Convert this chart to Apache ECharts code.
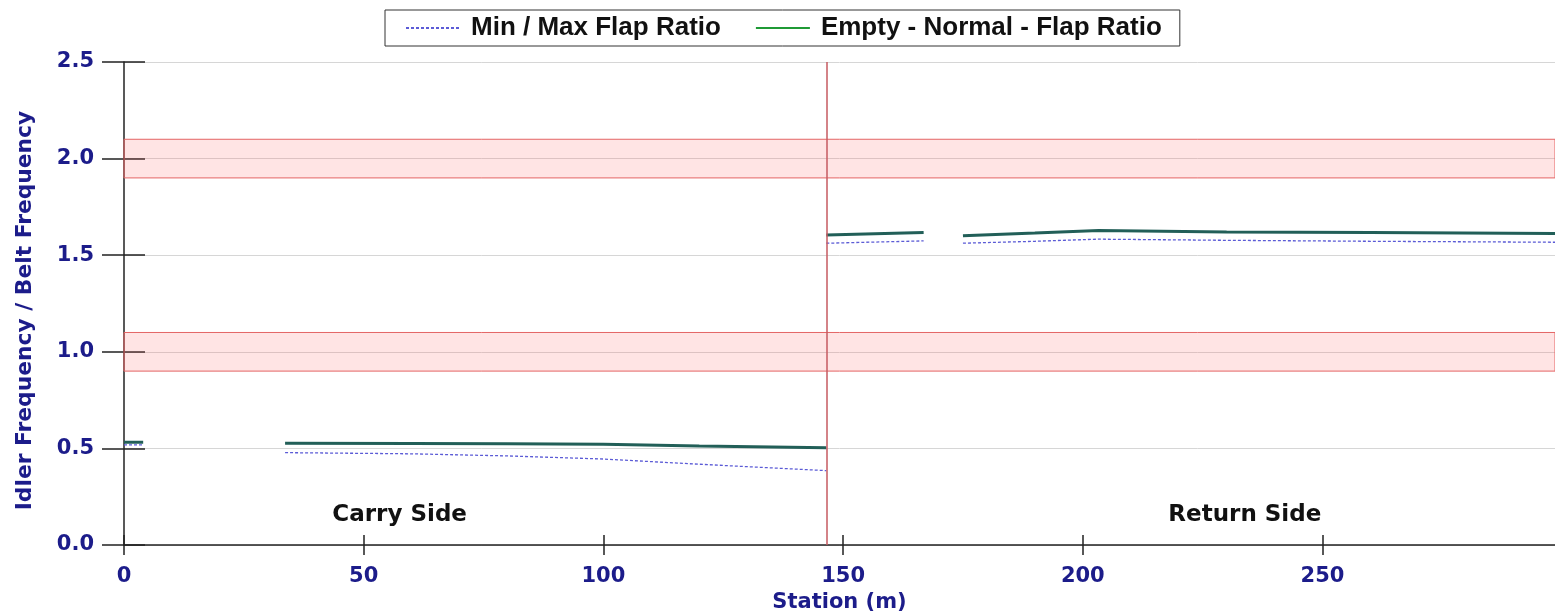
<!DOCTYPE html>
<html>
<head>
<meta charset="utf-8">
<script src="https://cdn.jsdelivr.net/npm/echarts@6/dist/echarts.min.js"></script>
<style>
html,body{margin:0;padding:0;background:#fff;overflow:hidden;}
#chart{width:1555px;height:615px;}
</style>
</head>
<body>
<div id="chart"></div>
<script>
// ---- data ----
const xTicks = [0, 50, 100, 150, 200, 250];
const yTicks = [0.0, 0.5, 1.0, 1.5, 2.0, 2.5];
// null = gap between belt sections
const emptyStations = [0, 4, null, 33.6, 60, 80, 100, 120, 146.5, null, 146.5, 166.8, null, 175, 190, 203.3, 203.6, 230, 260, 298.5];
const emptyRatio    = [0.532, 0.532, null, 0.527, 0.526, 0.524, 0.522, 0.513, 0.504, null, 1.605, 1.618, null, 1.601, 1.615, 1.628, 1.618, 1.620, 1.617, 1.612];
const minMaxStations = [0, 4, null, 33.6, 60, 80, 100, 120, 146.5, null, 146.5, 166.8, null, 175, 190, 203.3, 203.6, 230, 260, 298.5];
const minMaxRatio    = [0.518, 0.518, null, 0.478, 0.472, 0.461, 0.445, 0.418, 0.385, null, 1.562, 1.574, null, 1.562, 1.572, 1.583, 1.578, 1.577, 1.572, 1.567];
const bandLow  = [1.9, 0.9];
const bandHigh = [2.1, 1.1];
const sideBoundary = 146.5;
const sideNames = ['Carry Side', 'Return Side'];
const sideLabelStation = [57.5, 233.8];
const sideLabelRatio = [0.155, 0.155];
const seriesNames = ['Min / Max Flap Ratio', 'Empty - Normal - Flap Ratio'];

// ---- build ----
const toPairs = (xs, ys) => xs.map((x, i) => (x === null || ys[i] === null) ? ['-', '-'] : [x, ys[i]]);
const navy = '#1c1c8a';
const labelFont = 'DejaVu Sans';
const xMin = 0, xMax = 298.5, yMin = 0, yMax = 2.5;

const chart = echarts.init(document.getElementById('chart'), null, {renderer: 'canvas'});
chart.setOption({
  animation: false,
  backgroundColor: '#ffffff',
  grid: {left: 124, right: 0, top: 62, bottom: 70, containLabel: false, outerBoundsMode: 'none'},
  legend: {
    data: [
      {name: seriesNames[0]},
      {name: seriesNames[1], lineStyle: {color: '#1f9a35', width: 2}}
    ],
    left: 385, top: 10,
    padding: [5, 18, 5, 20],
    itemGap: 34,
    itemWidth: 54, itemHeight: 14,
    itemStyle: {opacity: 0},
    borderColor: '#333', borderWidth: 1,
    textStyle: {fontFamily: 'Liberation Sans', fontWeight: 'bold', fontSize: 26, color: '#111', padding: [0, 0, 0, 6]}
  },
  xAxis: [{
    type: 'value', min: xMin, max: xMax, interval: 50,
    name: 'Station (m)', nameLocation: 'middle', nameGap: 47,
    nameTextStyle: {fontFamily: labelFont, fontWeight: 'bold', fontSize: 21, color: navy},
    axisLine: {show: true, onZero: false, lineStyle: {color: '#222', width: 1.5}},
    axisTick: {show: true, length: 10, customValues: xTicks, lineStyle: {color: '#222', width: 1.5}},
    axisLabel: {show: true, margin: 21, customValues: xTicks, fontFamily: labelFont, fontWeight: 'bold', fontSize: 21, color: navy,
      formatter: v => (v % 50 === 0 ? String(v) : '')},
    splitLine: {show: false}
  }, {
    type: 'value', min: xMin, max: xMax, interval: 50, position: 'bottom',
    axisLine: {show: false},
    axisTick: {show: true, inside: true, length: 10, customValues: xTicks, lineStyle: {color: '#222', width: 1.5}},
    axisLabel: {show: false},
    splitLine: {show: false}
  }],
  yAxis: [{
    type: 'value', min: yMin, max: yMax, interval: 0.5,
    name: 'Idler Frequency / Belt Frequency', nameLocation: 'middle', nameGap: 88,
    nameTextStyle: {fontFamily: labelFont, fontWeight: 'bold', fontSize: 21.8, color: navy, padding: [0, 14, 0, 0]},
    axisLine: {show: true, onZero: false, lineStyle: {color: '#222', width: 1.5}},
    axisTick: {show: true, length: 22, lineStyle: {color: '#222', width: 1.5}},
    axisLabel: {margin: 30, fontFamily: labelFont, fontWeight: 'bold', fontSize: 21, color: navy,
      formatter: v => v.toFixed(1)},
    splitLine: {show: true, lineStyle: {color: '#d6d6d6', width: 1}}
  }, {
    type: 'value', min: yMin, max: yMax, interval: 0.5, position: 'left',
    axisLine: {show: false},
    axisTick: {show: true, inside: true, length: 21, lineStyle: {color: '#222', width: 1.5}},
    axisLabel: {show: false},
    splitLine: {show: false}
  }],
  series: [
    {
      name: seriesNames[0], type: 'line', symbol: 'none', connectNulls: false,
      data: toPairs(minMaxStations, minMaxRatio),
      itemStyle: {color: '#5b5bd6'},
      lineStyle: {color: '#5b5bd6', width: 1.3, type: [3, 2]},
      z: 3
    },
    {
      name: seriesNames[1], type: 'line', symbol: 'none', connectNulls: false,
      data: toPairs(emptyStations, emptyRatio),
      itemStyle: {color: '#225f58'},
      lineStyle: {color: '#225f58', width: 3},
      z: 4,
      markArea: {
        silent: true,
        itemStyle: {color: 'rgba(255,105,105,0.18)', borderColor: '#e46464', borderWidth: 1},
        data: bandLow.map((lo, i) => [{yAxis: lo}, {yAxis: bandHigh[i]}])
      },
      markLine: {
        silent: true, symbol: 'none', label: {show: false},
        lineStyle: {color: '#c65a60', width: 1.5, type: 'solid'},
        data: [{xAxis: sideBoundary}]
      }
    },
    {
      name: 'side labels', type: 'scatter', symbolSize: 0, silent: true,
      data: sideNames.map((n, i) => ({value: [sideLabelStation[i], sideLabelRatio[i]], name: n})),
      itemStyle: {opacity: 1},
      label: {show: true, position: 'inside', formatter: p => p.name,
        fontFamily: labelFont, fontWeight: 'bold', fontSize: 23, color: '#111', opacity: 1},
      z: 5
    }
  ]
});
</script>
</body>
</html>
